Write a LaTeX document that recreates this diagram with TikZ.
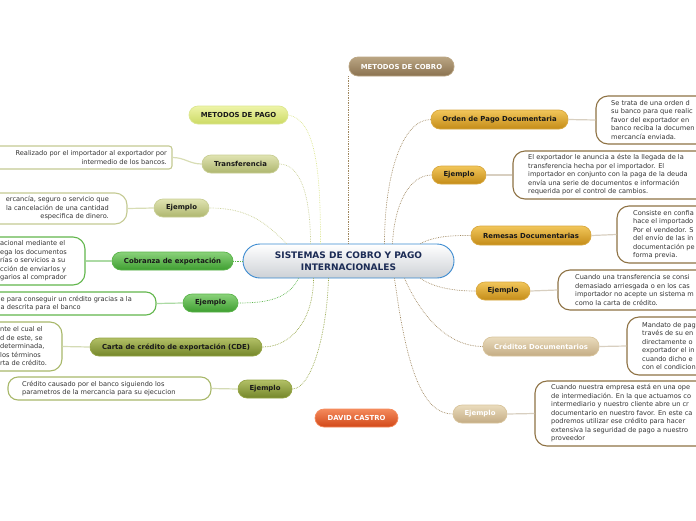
\documentclass[tikz,border=0pt]{standalone}
\usepackage{fontspec}
\setmainfont{DejaVu Sans}
\definecolor{navy}{HTML}{1B2B55}
\definecolor{cblue}{HTML}{3A8AD0}
\definecolor{cgrey}{HTML}{CDD1D6}
\definecolor{brT}{HTML}{BAA583}
\definecolor{brB}{HTML}{8A7250}
\definecolor{goT}{HTML}{F2C65A}
\definecolor{goB}{HTML}{C48C18}
\definecolor{goD}{HTML}{D8A840}
\definecolor{taT}{HTML}{EADCBD}
\definecolor{taB}{HTML}{C4AC84}
\definecolor{taD}{HTML}{D8C49C}
\definecolor{brLine}{HTML}{A08860}
\definecolor{brBox}{HTML}{8E7244}
\definecolor{brLink}{HTML}{D8CFC0}
\definecolor{ypT}{HTML}{EEF4A8}
\definecolor{ypB}{HTML}{CCDA64}
\definecolor{ypD}{HTML}{DCE690}
\definecolor{lyT}{HTML}{E0E3B2}
\definecolor{lyB}{HTML}{AEB66E}
\definecolor{lyD}{HTML}{C8CE94}
\definecolor{lyBox}{HTML}{C4CA92}
\definecolor{grT}{HTML}{8AD27A}
\definecolor{grB}{HTML}{3E9E30}
\definecolor{grD}{HTML}{5AB44A}
\definecolor{grBox}{HTML}{62B64C}
\definecolor{olT}{HTML}{B2C066}
\definecolor{olB}{HTML}{74862A}
\definecolor{olD}{HTML}{94A444}
\definecolor{olBox}{HTML}{A8B86A}
\definecolor{orT}{HTML}{F48A5C}
\definecolor{orB}{HTML}{D24818}
\tikzset{
  pill/.style={rounded corners=9pt, minimum height=18pt, inner sep=0pt, line width=0.7pt,
    font=\bfseries\fontsize{6.9}{7}\selectfont, text=black!90},
  golden/.style={pill, top color=goT, bottom color=goB, draw=goD},
  tan/.style={pill, top color=taT, bottom color=taB, draw=taD, text=white},
  ypale/.style={pill, top color=ypT, bottom color=ypB, draw=ypD},
  lyel/.style={pill, top color=lyT, bottom color=lyB, draw=lyD},
  green/.style={pill, top color=grT, bottom color=grB, draw=grD},
  olive/.style={pill, top color=olT, bottom color=olB, draw=olD},
  tbox/.style={fill=white, line width=1.1pt, rounded corners=12pt, inner sep=0pt},
  txt/.style={inner sep=0pt, font=\fontsize{6.6}{8.5}\selectfont, text=black!80},
  link/.style={line width=1.2pt},
  dots/.style={line width=0.7pt, densely dotted},
}
\begin{document}
\begin{tikzpicture}[x=1pt,y=-1pt]
\useasboundingbox (0,0) rectangle (696,520);
% centre
\node[rounded corners=17pt, minimum width=211pt, minimum height=34pt, inner sep=0pt,
  draw=cblue, line width=0.9pt, top color=white, bottom color=cgrey, align=center,
  text=navy, font=\bfseries\fontsize{9}{11.5}\selectfont] (c) at (348.5,261)
  {SISTEMAS DE COBRO Y PAGO\\INTERNACIONALES};

% right side
\node[pill, top color=brT, bottom color=brB, draw=brT, text=white, minimum width=105pt, minimum height=19pt] (mcobro) at (401.5,66.5) {METODOS DE COBRO};
\node[golden, minimum width=137pt, minimum height=19pt] (opd) at (499.5,119.5) {Orden de Pago Documentaria};
\node[golden, minimum width=54pt] (ej4) at (459,175) {Ejemplo};
\node[golden, minimum width=120pt, minimum height=19pt] (rem) at (531,235.5) {Remesas Documentarias};
\node[golden, minimum width=54pt] (ej5) at (503,291) {Ejemplo};
\node[tan, minimum width=116pt, minimum height=19pt] (cred) at (541,346.5) {Créditos Documentarios};
\node[tan, minimum width=54pt] (ej6) at (480,414) {Ejemplo};
\node[pill, top color=orT, bottom color=orB, draw=orT, text=white, minimum width=83pt] (david) at (356.5,418) {DAVID CASTRO};

% left side
\node[ypale, minimum width=99pt] (mpago) at (238.5,115) {METODOS DE PAGO};
\node[lyel, minimum width=77pt] (transf) at (240.5,164) {Transferencia};
\node[lyel, minimum width=55pt] (ej1) at (181.5,208) {Ejemplo};
\node[green, minimum width=121pt] (cobr) at (172.5,261) {Cobranza de exportación};
\node[green, minimum width=55pt] (ej2) at (210.5,303) {Ejemplo};
\node[olive, minimum width=172pt] (cde) at (176,347) {Carta de crédito de exportación (CDE)};
\node[olive, minimum width=54pt] (ej3) at (265,389) {Ejemplo};

% text boxes right
\node[tbox, draw=brBox, minimum width=130pt, minimum height=48pt] (bo) at (661,120) {};
\node[txt, anchor=west, align=left] (to) at (611,120) {Se trata de una orden d\\su banco para que realic\\favor del exportador en\\banco reciba la documen\\mercancía enviada.};
\node[tbox, draw=brBox, minimum width=210pt, minimum height=48pt] (b4) at (618,175) {};
\node[txt, anchor=west, align=left] (t4) at (528,175) {El exportador le anuncia a éste la llegada de la\\transferencia hecha por el importador. El\\importador en conjunto con la paga de la deuda\\envía una serie de documentos e información\\requerida por el control de cambios.};
\node[tbox, draw=brBox, minimum width=110pt, minimum height=57pt] (br) at (672,234.5) {};
\node[txt, anchor=west, align=left] (tr) at (633,234.5) {Consiste en confia\\hace el importado\\Por el vendedor. S\\del envío de las in\\documentación pe\\forma previa.};
\node[tbox, draw=brBox, minimum width=170pt, minimum height=40pt] (b5) at (643,290) {};
\node[txt, anchor=west, align=left] (t5) at (575,290) {Cuando una transferencia se consi\\demasiado arriesgada o en los cas\\importador no acepte un sistema m\\como la carta de crédito.};
\node[tbox, draw=brBox, minimum width=100pt, minimum height=58pt] (bc) at (677,346) {};
\node[txt, anchor=west, align=left] (tc) at (642,346) {Mandato de pag\\través de su en\\directamente o\\exportador el in\\cuando dicho e\\con el condicion};
\node[tbox, draw=brBox, minimum width=190pt, minimum height=65pt] (b6) at (630,413.5) {};
\node[txt, anchor=west, align=left] (t6) at (551,413.5) {Cuando nuestra empresa está en una ope\\de intermediación. En la que actuamos co\\intermediario y nuestro cliente abre un cr\\documentario en nuestro favor. En este ca\\podremos utilizar ese crédito para hacer\\extensiva la seguridad de pago a nuestro\\proveedor};

% text boxes left
\node[tbox, rounded corners=3pt, draw=lyBox, minimum width=192pt, minimum height=23pt] (bt) at (76,157.5) {};
\node[txt, anchor=east, align=right] (tt) at (167,157.5) {Realizado por el importador al exportador por\\intermedio de los bancos.};
\node[tbox, draw=lyBox, minimum width=160pt, minimum height=31pt] (b1) at (47,208.5) {};
\node[txt, anchor=east, align=right] (t1) at (109,208.5) {ercancía, seguro o servicio que\\la cancelación de una cantidad\\especifica de dinero.};
\node[tbox, draw=grBox, minimum width=120pt, minimum height=48pt] (bcb) at (25,261) {};
\node[txt, anchor=west, align=left] (tcb) at (0,261) {acional mediante el\\ega los documentos\\rías o servicios a su\\cción de enviarlos y\\garios al comprador};
\node[tbox, rounded corners=10pt, draw=grBox, minimum width=190pt, minimum height=23pt] (b2) at (61,303.5) {};
\node[txt, anchor=west, align=left] (t2) at (0.5,303.5) {e para conseguir un crédito gracias a la\\a descrita para el banco};
\node[tbox, draw=olBox, minimum width=100pt, minimum height=49pt] (bd) at (12,346.5) {};
\node[txt, anchor=west, align=left] (td) at (0,346.5) {nte el cual el\\d de este, se\\determinada,\\los términos\\rta de crédito.};
\node[tbox, rounded corners=10pt, draw=olBox, minimum width=203pt, minimum height=23pt] (b3) at (109.5,388.5) {};
\node[txt, anchor=west, align=left] (t3) at (22,388.5) {Crédito causado por el banco siguiendo los\\parametros de la mercancia para su ejecucion};

% links node -> box
\draw[link, brLink] (opd.east) -- (bo.west);
\draw[link, brLink] (ej4.east) -- (b4.west);
\draw[link, brLink] (rem.east) -- (br.west);
\draw[link, brLink] (ej5.east) -- (b5.west);
\draw[link, brLink] (cred.east) -- (bc.west);
\draw[link, brLink] (ej6.east) -- (b6.west);
\draw[link, lyD!70] (transf.west) .. controls +(-12,0) and +(12,0) .. (bt.east);
\draw[link, lyD!70] (ej1.west) -- (b1.east);
\draw[link, grD!50] (cobr.west) -- (bcb.east);
\draw[link, grD!50] (ej2.west) -- (b2.east);
\draw[link, olD!40] (cde.west) -- (bd.east);
\draw[link, olD!40] (ej3.west) -- (b3.east);

% links centre -> branches
\draw[dots, brLine] (c.north) -- (c.north |- mcobro.south);
\draw[dots, brLine] ([xshift=36pt]c.north) .. controls +(0,-70) and +(-28,0) .. (opd.west);
\draw[dots, brLine] ([xshift=44pt]c.north) .. controls +(2,-40) and +(-22,0) .. (ej4.west);
\draw[dots, brLine] ([xshift=72pt]c.north) .. controls +(15,-8) and +(-15,0) .. (rem.west);
\draw[dots, brLine] ([xshift=72pt]c.south) .. controls +(15,10) and +(-20,0) .. (ej5.west);
\draw[dots, brLine] ([xshift=56pt]c.south) .. controls +(20,45) and +(-30,0) .. (cred.west);
\draw[dots, brLine] ([xshift=46pt]c.south) .. controls +(12,90) and +(-30,0) .. (ej6.west);
\draw[dots, ypD] ([xshift=-28pt]c.north) .. controls +(0,-70) and +(28,5) .. (mpago.east);
\draw[dots, lyD] ([xshift=-38pt]c.north) .. controls +(0,-45) and +(22,0) .. (transf.east);
\draw[dots, lyD] ([xshift=-62pt]c.north) .. controls +(-20,-20) and +(40,0) .. (ej1.east);
\draw[dots, grD] (c.west) -- (cobr.east);
\draw[dots, grD] ([xshift=-50pt]c.south) .. controls +(-10,20) and +(30,0) .. (ej2.east);
\draw[dots, olD] ([xshift=-35pt]c.south) .. controls +(0,40) and +(30,0) .. (cde.east);
\draw[dots, olD] ([xshift=-20pt]c.south) .. controls +(-2,60) and +(18,0) .. (ej3.east);
\end{tikzpicture}
\end{document}
